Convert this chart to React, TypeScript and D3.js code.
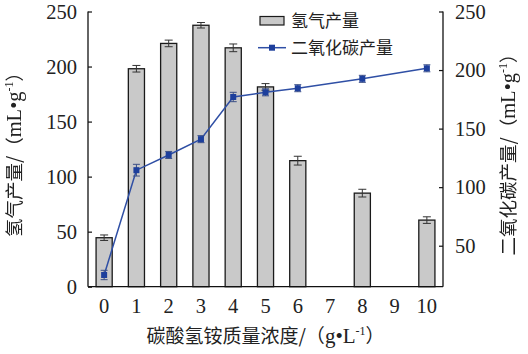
import * as d3 from "d3";
import { useEffect, useRef } from "react";

// x categories (g/L)
const categories = ["0", "1", "2", "3", "4", "5", "6", "7", "8", "9", "10"];
const measured = ["0", "1", "2", "3", "4", "5", "6", "8", "10"];

// hydrogen yield (left axis), mL/g
const h2Values = [44.5, 198, 221, 237.5, 217, 181.5, 114.5, 85, 60.5];
const h2Errors = [2.5, 3, 3, 2.5, 3.5, 3, 4, 3.5, 3];

// carbon dioxide yield (right axis), mL/g
const co2Values = [25, 114.5, 127.5, 141, 177, 181, 184.5, 192.5, 201.5];
const co2Errors = [4, 5, 3, 3, 4, 3, 3, 3, 3];

const leftTicks = [0, 50, 100, 150, 200, 250];
const rightTicks = [50, 100, 150, 200, 250];

const numFont = "'Liberation Serif', 'DejaVu Serif', serif";
const cjkFont = "'Noto Sans CJK SC', sans-serif";

export default function App() {
  const ref = useRef<SVGSVGElement>(null);

  useEffect(() => {
    const svg = d3.select(ref.current);
    svg.selectAll("*").remove();

    const width = 528;
    const height = 354;
    const left = 88;
    const right = 443;
    const top = 11.5;
    const bottom = 286.7;

    const x = d3
      .scaleBand()
      .domain(categories)
      .range([left, right])
      .paddingInner(0.5)
      .paddingOuter(0.25);
    const xc = (c: string) => (x(c) as number) + x.bandwidth() / 2;

    const yL = d3.scaleLinear().domain([0, 250]).range([bottom, top]);
    const yR = d3.scaleLinear().domain([15, 250]).range([bottom, top]);

    svg.attr("width", width).attr("height", height);

    // Bars
    svg
      .append("g")
      .selectAll("rect")
      .data(h2Values)
      .enter()
      .append("rect")
      .attr("x", (d, i) => x(measured[i]) as number)
      .attr("y", (d) => yL(d))
      .attr("width", x.bandwidth())
      .attr("height", (d) => yL(0) - yL(d))
      .attr("fill", "#c9c9c9")
      .attr("stroke", "#1a1a1a")
      .attr("stroke-width", 1.3);

    // Bar error bars
    const barErr = svg.append("g").attr("stroke", "#333").attr("stroke-width", 1);
    h2Values.forEach((v, i) => {
      const cx = xc(measured[i]);
      const lo = yL(v - h2Errors[i]);
      const hi = yL(v + h2Errors[i]);
      barErr.append("line").attr("x1", cx).attr("x2", cx).attr("y1", lo).attr("y2", hi);
      barErr.append("line").attr("x1", cx - 4).attr("x2", cx + 4).attr("y1", lo).attr("y2", lo);
      barErr.append("line").attr("x1", cx - 4).attr("x2", cx + 4).attr("y1", hi).attr("y2", hi);
    });

    // CO2 line
    const line = d3
      .line<number>()
      .x((d, i) => xc(measured[i]))
      .y((d) => yR(d));

    svg
      .append("path")
      .datum(co2Values)
      .attr("fill", "none")
      .attr("stroke", "#2f4fa5")
      .attr("stroke-width", 1.5)
      .attr("d", line);

    const lineErr = svg.append("g").attr("stroke", "#3b4f86").attr("stroke-width", 1);
    co2Values.forEach((v, i) => {
      const cx = xc(measured[i]);
      const lo = yR(v - co2Errors[i]);
      const hi = yR(v + co2Errors[i]);
      lineErr.append("line").attr("x1", cx).attr("x2", cx).attr("y1", lo).attr("y2", hi);
      lineErr.append("line").attr("x1", cx - 3.5).attr("x2", cx + 3.5).attr("y1", lo).attr("y2", lo);
      lineErr.append("line").attr("x1", cx - 3.5).attr("x2", cx + 3.5).attr("y1", hi).attr("y2", hi);
    });

    svg
      .append("g")
      .selectAll("rect")
      .data(co2Values)
      .enter()
      .append("rect")
      .attr("x", (d, i) => xc(measured[i]) - 3)
      .attr("y", (d) => yR(d) - 3)
      .attr("width", 6)
      .attr("height", 6)
      .attr("fill", "#1d3f9c");

    // Axes
    const leftAxis = svg
      .append("g")
      .attr("transform", `translate(${left},0)`)
      .call(d3.axisLeft(yL).tickValues(leftTicks).tickSizeInner(-4).tickSizeOuter(0).tickPadding(11));
    const rightAxis = svg
      .append("g")
      .attr("transform", `translate(${right},0)`)
      .call(d3.axisRight(yR).tickValues(rightTicks).tickSizeInner(-4).tickSizeOuter(0).tickPadding(12));
    const bottomAxis = svg
      .append("g")
      .attr("transform", `translate(0,${bottom})`)
      .call(d3.axisBottom(x).tickSize(0).tickPadding(12));

    [leftAxis, rightAxis, bottomAxis].forEach((g) => {
      g.select(".domain").attr("stroke", "#111").attr("stroke-width", 1.3);
      g.selectAll(".tick line").attr("stroke", "#111").attr("stroke-width", 1.2);
      g.selectAll("text")
        .attr("font-family", numFont)
        .attr("font-size", 20.5)
        .attr("fill", "#222");
    });
    // extend left/right domain to full height
    leftAxis.select(".domain").attr("d", `M0,${top}V${bottom}`);
    rightAxis.select(".domain").attr("d", `M0,${top}V${bottom}`);
    bottomAxis.select(".domain").attr("d", `M${left},0H${right}`);

    // Axis titles
    const xTitle = svg
      .append("text")
      .attr("x", (left + right) / 2)
      .attr("y", 343)
      .attr("text-anchor", "middle")
      .attr("font-family", cjkFont)
      .attr("font-size", 19)
      .attr("fill", "#222");
    xTitle.append("tspan").text("碳酸氢铵质量浓度/（");
    xTitle.append("tspan").attr("font-family", numFont).attr("font-size", 21).text("g•L");
    xTitle.append("tspan").attr("font-family", numFont).attr("font-size", 12).attr("dy", -8).text("-1");
    xTitle.append("tspan").attr("dy", 8).text("）");

    // rotated titles: grayscale filter keeps the glyph edges neutral
    const yTitle = (label: string, cx: number) => {
      const t = svg
        .append("text")
        .attr("transform", `translate(${cx},150) rotate(-90)`)
        .attr("text-anchor", "middle")
        .attr("font-family", cjkFont)
        .attr("font-size", 18.5)
        .attr("fill", "#222")
        .style("filter", "grayscale(1)");
      t.append("tspan").text(label + "/（");
      t.append("tspan").attr("font-family", numFont).attr("font-size", 20.5).text("mL•g");
      t.append("tspan").attr("font-family", numFont).attr("font-size", 12).attr("dy", -8).text("-1");
      t.append("tspan").attr("dy", 8).text("）");
    };
    yTitle("氢气产量", 21);
    yTitle("二氧化碳产量", 515);

    // Legend
    const legend = svg.append("g").attr("font-family", cjkFont).attr("font-size", 17).attr("fill", "#222");
    legend
      .append("rect")
      .attr("x", 260)
      .attr("y", 16.5)
      .attr("width", 24)
      .attr("height", 8.5)
      .attr("fill", "#c9c9c9")
      .attr("stroke", "#1a1a1a")
      .attr("stroke-width", 1.2);
    legend.append("text").attr("x", 291).attr("y", 27).text("氢气产量");
    legend
      .append("line")
      .attr("x1", 258)
      .attr("x2", 286)
      .attr("y1", 47.7)
      .attr("y2", 47.7)
      .attr("stroke", "#2f4fa5")
      .attr("stroke-width", 1.5);
    legend
      .append("rect")
      .attr("x", 269)
      .attr("y", 44.7)
      .attr("width", 6)
      .attr("height", 6)
      .attr("fill", "#1d3f9c");
    legend.append("text").attr("x", 291).attr("y", 54).text("二氧化碳产量");
  }, []);

  return (
    <div style={{ position: "absolute", left: 0, top: 0, background: "#fff" }}>
      <svg ref={ref} style={{ display: "block" }} />
    </div>
  );
}
